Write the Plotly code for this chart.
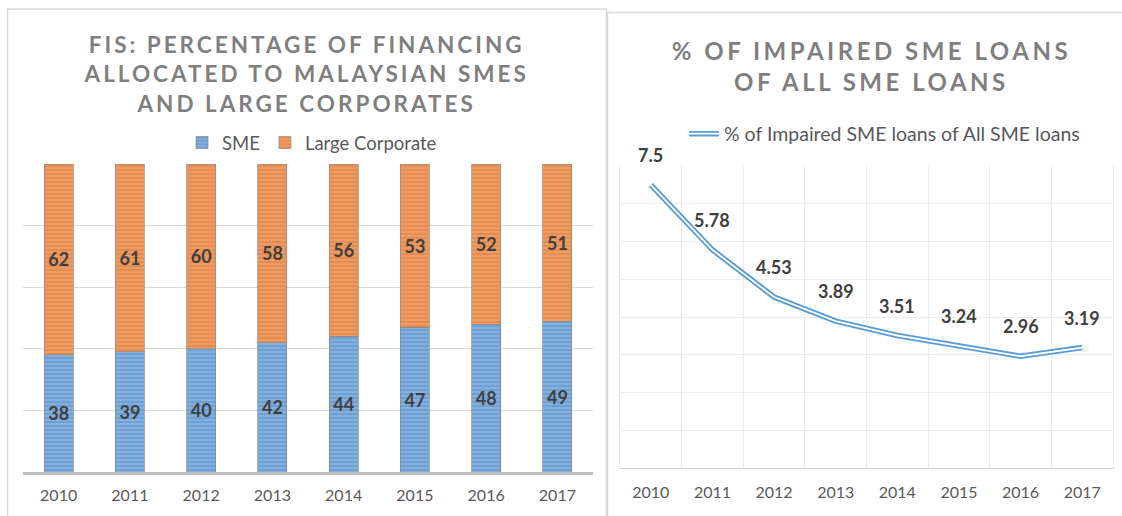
import plotly.graph_objects as go

# ---------------- data ----------------
years = ["2010", "2011", "2012", "2013", "2014", "2015", "2016", "2017"]
sme_share = [38, 39, 40, 42, 44, 47, 48, 49]
large_corp_share = [62, 61, 60, 58, 56, 53, 52, 51]
impaired_pct = [7.5, 5.78, 4.53, 3.89, 3.51, 3.24, 2.96, 3.19]

left_title = "FIS: PERCENTAGE OF FINANCING<br>ALLOCATED TO MALAYSIAN SMES<br>AND LARGE CORPORATES"
right_title = "% OF IMPAIRED SME LOANS<br>OF ALL SME LOANS"
line_name = "% of Impaired SME loans of All SME loans"

# ---------------- layout helpers ----------------
W, H = 1122, 516


def px(x):
    return x / W


def py(y):
    return 1 - y / H


FONT = "Lato, Carlito, 'Open Sans', sans-serif"
TXT = "#595959"
LBL = "#404040"

fig = go.Figure()

fig.add_trace(go.Bar(
    x=years, y=sme_share, name="SME",
    text=sme_share, textposition="inside", insidetextanchor="middle", textangle=0,
    textfont=dict(family=FONT, size=18, color=LBL, weight="bold"),
    marker=dict(color="#5B9BD5", line=dict(color="rgba(125,135,150,0.7)", width=1),
                pattern=dict(shape="-", fgcolor="#4B86C6", bgcolor="#92BAE3", size=4, solidity=0.7)),
    xaxis="x", yaxis="y", legend="legend", hoverinfo="skip",
))
fig.add_trace(go.Bar(
    x=years, y=large_corp_share, name="Large Corporate",
    text=large_corp_share, textposition="inside", insidetextanchor="middle", textangle=0,
    textfont=dict(family=FONT, size=18, color=LBL, weight="bold"),
    marker=dict(color="#ED7D31", line=dict(color="rgba(155,135,125,0.7)", width=1),
                pattern=dict(shape="-", fgcolor="#DF6F28", bgcolor="#EFA877", size=4, solidity=0.7)),
    xaxis="x", yaxis="y", legend="legend", hoverinfo="skip",
))

# double (compound) line: thick blue with a thin white core
fig.add_trace(go.Scatter(
    x=years, y=impaired_pct, mode="lines", name=line_name,
    line=dict(color="#5B9BD5", width=5.5),
    xaxis="x2", yaxis="y2", legend="legend2", hoverinfo="skip", cliponaxis=False,
))
fig.add_trace(go.Scatter(
    x=years, y=impaired_pct, mode="lines", name="",
    line=dict(color="#FFFFFF", width=1.8), showlegend=True,
    xaxis="x2", yaxis="y2", legend="legend3", hoverinfo="skip", cliponaxis=False,
))

annotations = []
for i, v in enumerate(impaired_pct):
    annotations.append(dict(
        x=i, y=v, xref="x2", yref="y2", text=f"{v:g}", showarrow=False,
        yshift=30, font=dict(family=FONT, size=18, color=LBL, weight="bold"),
    ))
annotations.append(dict(
    x=px(306), y=py(74), xref="paper", yref="paper", text=left_title, showarrow=False,
    xanchor="center", yanchor="middle", align="center",
    font=dict(family=FONT, size=22.5, color="#7F7F7F", weight="bold"),
))
annotations.append(dict(
    x=px(871), y=py(66), xref="paper", yref="paper", text=right_title, showarrow=False,
    xanchor="center", yanchor="middle", align="center",
    font=dict(family=FONT, size=24, color="#7F7F7F", weight="bold"),
))

border = "#D9D9D9"
shapes = [
    # left chart frame
    dict(type="rect", xref="paper", yref="paper", x0=px(7.5), x1=px(606.5), y0=py(9), y1=py(530),
         line=dict(color=border, width=1.5), layer="below"),
    # right chart frame (top and left edges)
    dict(type="line", xref="paper", yref="paper", x0=px(607.5), x1=px(1130), y0=py(12.5), y1=py(12.5),
         line=dict(color=border, width=1.5), layer="below"),
    dict(type="line", xref="paper", yref="paper", x0=px(607.5), x1=px(607.5), y0=py(12.5), y1=py(530),
         line=dict(color=border, width=1.5), layer="below"),
]

fig.update_layout(
    width=W, height=H,
    margin=dict(l=0, r=0, t=0, b=0),
    paper_bgcolor="white", plot_bgcolor="white",
    barmode="stack", bargap=0.59,
    font=dict(family=FONT, color=TXT),
    showlegend=True,
    xaxis=dict(domain=[px(23), px(593)], anchor="y", type="category", range=[-0.5, 7.5],
               showgrid=False, showline=True, linecolor="#BFBFBF", linewidth=3,
               ticks="", ticklabelstandoff=7, tickfont=dict(family=FONT, size=16, color=TXT)),
    yaxis=dict(domain=[py(472), py(164)], anchor="x", range=[0, 100], dtick=20,
               showticklabels=False, showgrid=True, gridcolor="#D9D9D9", gridwidth=1,
               zeroline=False),
    xaxis2=dict(domain=[px(620), px(1113)], anchor="y2", type="category", range=[-0.5, 7.5],
                tickson="boundaries",
                showgrid=True, gridcolor="#EBEBEB", gridwidth=1,
                showline=True, linecolor="#D9D9D9", linewidth=1,
                ticks="", ticklabelstandoff=10, tickfont=dict(family=FONT, size=16, color=TXT)),
    yaxis2=dict(domain=[py(468), py(166)], anchor="x2", range=[0, 8], dtick=1,
                showticklabels=False, showgrid=True, gridcolor="#EBEBEB", gridwidth=1,
                zeroline=False, showline=True, mirror=True, linecolor="#EBEBEB", linewidth=1),
    legend=dict(orientation="h", x=px(312), xanchor="center", y=py(143), yanchor="middle",
                traceorder="normal",
                font=dict(family=FONT, size=18.5, color=TXT), bgcolor="rgba(0,0,0,0)",
                itemclick=False, itemdoubleclick=False),
    legend2=dict(orientation="h", x=px(684), xanchor="left", y=py(134), yanchor="middle",
                 font=dict(family=FONT, size=19.5, color=TXT), bgcolor="rgba(0,0,0,0)",
                 itemclick=False, itemdoubleclick=False),
    legend3=dict(orientation="h", x=px(684), xanchor="left", y=py(134), yanchor="middle",
                 font=dict(family=FONT, size=19.5, color=TXT), bgcolor="rgba(0,0,0,0)",
                 itemclick=False, itemdoubleclick=False),
    annotations=annotations,
    shapes=shapes,
)

post = """
document.body.style.margin = '0';
var gd = document.getElementById('{plot_id}');
gd.querySelectorAll('text.annotation-text').forEach(function(t){
  var s = t.textContent;
  if (s.indexOf('FIS:') === 0) { t.style.letterSpacing = '3.0px'; }
  else if (s.indexOf('% OF') === 0) { t.style.letterSpacing = '3.5px'; }
});
"""

fig.write_html("out.html", post_script=post, config={"staticPlot": True})
